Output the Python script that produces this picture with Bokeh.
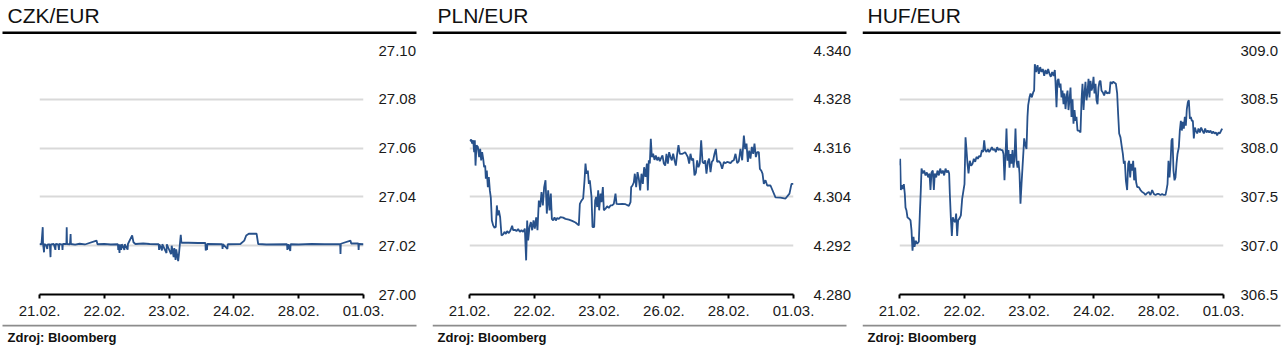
from bokeh.plotting import figure
from bokeh.layouts import row, column
from bokeh.models import FixedTicker, PrintfTickFormatter, Label, BoxAnnotation, Range1d
from bokeh.embed import file_html
from bokeh.resources import INLINE

# ---------------- data ----------------
czk_t = [0.00, 0.03, 0.05, 0.055, 0.07, 0.075, 0.10, 0.12, 0.125, 0.16, 0.17, 0.175, 0.22, 0.245, 0.25,
         0.29, 0.30, 0.305, 0.35, 0.355, 0.36, 0.415, 0.42, 0.425, 0.47, 0.48, 0.485, 0.55, 0.62, 0.70,
         0.88, 0.895, 1.00, 1.10, 1.21, 1.215, 1.22, 1.235, 1.24, 1.26, 1.27, 1.31, 1.315, 1.36, 1.365,
         1.43, 1.45, 1.48, 1.60, 1.70, 1.84, 1.845, 1.85, 1.89, 1.895, 1.96, 1.965, 2.03, 2.04, 2.07,
         2.08, 2.10, 2.11, 2.14, 2.15, 2.18, 2.19, 2.30, 2.45, 2.56, 2.565, 2.58, 2.585, 2.59, 2.82,
         2.825, 2.83, 2.90, 2.905, 3.10, 3.16, 3.19, 3.23, 3.35, 3.375, 3.50, 3.82, 3.825, 3.84, 3.87,
         3.875, 4.00, 4.20, 4.40, 4.64, 4.645, 4.65, 4.80, 4.81, 4.92, 4.925, 4.93, 5.00]
czk_v = [27.0207, 27.0205, 27.0276, 27.0207, 27.0173, 27.0207, 27.0203, 27.0187, 27.0205, 27.0205,
         27.0153, 27.0205, 27.0207, 27.0183, 27.0207, 27.0205, 27.0183, 27.0207, 27.0204, 27.0183,
         27.0207, 27.0207, 27.0276, 27.0207, 27.0205, 27.0248, 27.0207, 27.0204, 27.0208, 27.0205,
         27.0221, 27.0206, 27.0207, 27.0205, 27.0206, 27.0183, 27.0206, 27.0170, 27.0205, 27.0183,
         27.0206, 27.0183, 27.0206, 27.0184, 27.0207, 27.0242, 27.0214, 27.0207, 27.0209, 27.0207,
         27.0206, 27.0183, 27.0206, 27.0181, 27.0206, 27.0170, 27.0206, 27.0165, 27.0200, 27.0153,
         27.0190, 27.0142, 27.0185, 27.0137, 27.0160, 27.0245, 27.0212, 27.0212, 27.0211, 27.0211,
         27.0180, 27.0208, 27.0183, 27.0207, 27.0206, 27.0187, 27.0206, 27.0187, 27.0206, 27.0207,
         27.0221, 27.0242, 27.0249, 27.0249, 27.0207, 27.0205, 27.0206, 27.0183, 27.0206, 27.0178,
         27.0206, 27.0205, 27.0207, 27.0206, 27.0206, 27.0166, 27.0208, 27.0221, 27.0209, 27.0209,
         27.0183, 27.0207, 27.0206]

pln_t = [0.005, 0.026, 0.041, 0.057, 0.072, 0.082, 0.093, 0.108, 0.129, 0.149, 0.165, 0.180, 0.195, 0.211,
         0.226, 0.242, 0.252, 0.267, 0.283, 0.298, 0.314, 0.329, 0.345, 0.365, 0.386, 0.406, 0.422, 0.437,
         0.453, 0.473, 0.494, 0.520, 0.540, 0.561, 0.581, 0.607, 0.633, 0.658, 0.674, 0.700, 0.725, 0.751,
         0.777, 0.802, 0.828, 0.854, 0.874, 0.890, 0.905, 0.926, 0.947, 0.967, 0.988, 1.008, 1.029, 1.049,
         1.070, 1.091, 1.111, 1.132, 1.152, 1.173, 1.193, 1.214, 1.235, 1.255, 1.271, 1.291, 1.312, 1.332,
         1.353, 1.379, 1.404, 1.445, 1.481, 1.533, 1.584, 1.636, 1.687, 1.703, 1.728, 1.754, 1.775, 1.790,
         1.806, 1.826, 1.842, 1.857, 1.883, 1.898, 1.924, 1.939, 1.955, 1.970, 1.986, 2.001, 2.022, 2.037,
         2.058, 2.073, 2.099, 2.124, 2.150, 2.176, 2.202, 2.227, 2.253, 2.269, 2.305, 2.356, 2.407, 2.459,
         2.485, 2.495, 2.515, 2.536, 2.551, 2.572, 2.593, 2.613, 2.634, 2.654, 2.675, 2.695, 2.716, 2.737,
         2.752, 2.767, 2.783, 2.798, 2.814, 2.834, 2.855, 2.875, 2.896, 2.917, 2.937, 2.958, 2.978, 2.999,
         3.020, 3.040, 3.061, 3.081, 3.102, 3.122, 3.143, 3.164, 3.184, 3.205, 3.225, 3.246, 3.266, 3.287,
         3.308, 3.328, 3.349, 3.369, 3.390, 3.410, 3.431, 3.452, 3.472, 3.493, 3.513, 3.534, 3.554, 3.575,
         3.596, 3.616, 3.637, 3.657, 3.678, 3.698, 3.719, 3.740, 3.760, 3.781, 3.801, 3.822, 3.848, 3.873,
         3.899, 3.925, 3.951, 3.976, 4.002, 4.028, 4.053, 4.079, 4.105, 4.131, 4.156, 4.182, 4.208, 4.234,
         4.254, 4.275, 4.295, 4.316, 4.336, 4.357, 4.378, 4.398, 4.419, 4.439, 4.465, 4.481, 4.501, 4.522,
         4.542, 4.568, 4.594, 4.645, 4.722, 4.799, 4.877, 4.938, 4.969, 5.000]
pln_v = [4.3177, 4.3181, 4.3171, 4.3179, 4.3150, 4.3179, 4.3117, 4.3167, 4.3163, 4.3138, 4.3158, 4.3130,
         4.3150, 4.3134, 4.3113, 4.3117, 4.3085, 4.3105, 4.3064, 4.3089, 4.3056, 4.3038, 4.2982, 4.2970,
         4.2964, 4.2966, 4.3019, 4.2995, 4.3007, 4.2990, 4.2945, 4.2948, 4.2954, 4.2949, 4.2956, 4.2951,
         4.2958, 4.2969, 4.2958, 4.2959, 4.2956, 4.2961, 4.2954, 4.2958, 4.2954, 4.2962, 4.2884, 4.2982,
         4.2933, 4.2966, 4.2978, 4.2958, 4.2982, 4.2962, 4.2990, 4.2958, 4.3031, 4.3015, 4.3052, 4.3019,
         4.3064, 4.3081, 4.2999, 4.3056, 4.3007, 4.3048, 4.2986, 4.2982, 4.2990, 4.2982, 4.2988, 4.2986,
         4.2990, 4.2989, 4.2986, 4.2984, 4.2981, 4.2977, 4.2970, 4.3023, 4.3031, 4.3036, 4.3081, 4.3122,
         4.3097, 4.3105, 4.3072, 4.3081, 4.3040, 4.2966, 4.2966, 4.3031, 4.3040, 4.3015, 4.3056, 4.3007,
         4.3048, 4.3027, 4.3064, 4.3007, 4.3011, 4.3017, 4.3013, 4.3019, 4.3019, 4.3023, 4.3048, 4.3023,
         4.3022, 4.3023, 4.3022, 4.3018, 4.3027, 4.3064, 4.3068, 4.3076, 4.3097, 4.3064, 4.3101, 4.3085,
         4.3056, 4.3097, 4.3072, 4.3113, 4.3089, 4.3122, 4.3056, 4.3130, 4.3122, 4.3183, 4.3138, 4.3146,
         4.3131, 4.3142, 4.3130, 4.3138, 4.3128, 4.3136, 4.3142, 4.3122, 4.3117, 4.3146, 4.3122, 4.3150,
         4.3138, 4.3130, 4.3146, 4.3130, 4.3117, 4.3146, 4.3167, 4.3146, 4.3146, 4.3146, 4.3148, 4.3150,
         4.3144, 4.3138, 4.3122, 4.3146, 4.3130, 4.3134, 4.3093, 4.3099, 4.3130, 4.3113, 4.3122, 4.3179,
         4.3126, 4.3122, 4.3130, 4.3097, 4.3126, 4.3134, 4.3101, 4.3126, 4.3130, 4.3146, 4.3158, 4.3126,
         4.3128, 4.3123, 4.3109, 4.3126, 4.3123, 4.3126, 4.3125, 4.3123, 4.3128, 4.3130, 4.3146, 4.3123,
         4.3128, 4.3158, 4.3130, 4.3191, 4.3158, 4.3171, 4.3126, 4.3154, 4.3134, 4.3163, 4.3146, 4.3171,
         4.3138, 4.3150, 4.3150, 4.3109, 4.3105, 4.3097, 4.3072, 4.3081, 4.3068, 4.3068, 4.3039, 4.3038,
         4.3036, 4.3048, 4.3072, 4.3072]

huf_t = [0.000, 0.010, 0.021, 0.036, 0.051, 0.067, 0.082, 0.093, 0.108, 0.123, 0.144, 0.170, 0.185, 0.201,
         0.216, 0.231, 0.252, 0.273, 0.298, 0.314, 0.329, 0.340, 0.360, 0.381, 0.401, 0.422, 0.442, 0.463,
         0.478, 0.494, 0.514, 0.530, 0.545, 0.566, 0.586, 0.607, 0.628, 0.648, 0.669, 0.689, 0.710, 0.730,
         0.751, 0.766, 0.777, 0.792, 0.808, 0.823, 0.838, 0.859, 0.874, 0.890, 0.905, 0.926, 0.947, 0.967,
         0.988, 1.003, 1.019, 1.034, 1.049, 1.065, 1.085, 1.106, 1.127, 1.147, 1.168, 1.188, 1.209, 1.229,
         1.250, 1.271, 1.291, 1.307, 1.322, 1.343, 1.363, 1.384, 1.404, 1.425, 1.445, 1.466, 1.487, 1.507,
         1.528, 1.548, 1.569, 1.589, 1.605, 1.620, 1.636, 1.651, 1.667, 1.682, 1.698, 1.713, 1.728, 1.744,
         1.759, 1.775, 1.790, 1.806, 1.821, 1.836, 1.852, 1.867, 1.883, 1.898, 1.914, 1.924, 1.939, 1.960,
         1.975, 1.986, 2.006, 2.022, 2.042, 2.063, 2.078, 2.088, 2.109, 2.130, 2.150, 2.171, 2.191, 2.212,
         2.233, 2.253, 2.274, 2.294, 2.315, 2.335, 2.356, 2.377, 2.397, 2.407, 2.423, 2.438, 2.454, 2.469,
         2.485, 2.500, 2.515, 2.531, 2.546, 2.562, 2.577, 2.593, 2.608, 2.623, 2.639, 2.654, 2.670, 2.685,
         2.701, 2.716, 2.731, 2.747, 2.767, 2.793, 2.809, 2.824, 2.840, 2.855, 2.870, 2.886, 2.901, 2.917,
         2.932, 2.948, 2.963, 2.978, 2.994, 3.009, 3.025, 3.040, 3.056, 3.071, 3.086, 3.102, 3.117, 3.138,
         3.158, 3.179, 3.200, 3.220, 3.241, 3.256, 3.277, 3.297, 3.318, 3.339, 3.359, 3.374, 3.390, 3.410,
         3.431, 3.447, 3.462, 3.477, 3.493, 3.513, 3.529, 3.544, 3.560, 3.575, 3.591, 3.606, 3.621, 3.637,
         3.652, 3.668, 3.693, 3.719, 3.745, 3.771, 3.796, 3.822, 3.848, 3.873, 3.899, 3.925, 3.951, 3.976,
         4.002, 4.028, 4.053, 4.079, 4.105, 4.120, 4.136, 4.151, 4.167, 4.182, 4.198, 4.213, 4.228, 4.244,
         4.259, 4.275, 4.290, 4.311, 4.326, 4.342, 4.357, 4.372, 4.388, 4.403, 4.419, 4.434, 4.450, 4.465,
         4.481, 4.496, 4.511, 4.527, 4.542, 4.558, 4.573, 4.594, 4.614, 4.635, 4.655, 4.676, 4.697, 4.717,
         4.738, 4.758, 4.779, 4.799, 4.820, 4.841, 4.861, 4.882, 4.902, 4.923, 4.943, 4.964, 4.980]
huf_v = [307.82, 307.89, 307.57, 307.62, 307.58, 307.63, 307.53, 307.39, 307.36, 307.29, 307.28, 307.26,
         307.16, 306.95, 307.09, 306.99, 307.05, 307.02, 307.04, 307.33, 307.57, 307.79, 307.74, 307.77,
         307.72, 307.75, 307.70, 307.74, 307.57, 307.75, 307.77, 307.57, 307.74, 307.70, 307.77, 307.72,
         307.79, 307.74, 307.77, 307.72, 307.79, 307.75, 307.77, 307.74, 307.53, 307.29, 307.10, 307.29,
         307.26, 307.24, 307.33, 307.10, 307.26, 307.28, 307.31, 307.48, 307.57, 307.63, 308.11, 307.98,
         307.84, 307.74, 307.87, 307.82, 307.84, 307.89, 307.86, 307.91, 307.89, 307.92, 307.91, 307.98,
         307.96, 308.08, 307.98, 307.96, 307.99, 307.96, 307.98, 308.01, 307.98, 307.99, 307.96, 308.01,
         307.98, 307.99, 307.98, 307.98, 307.94, 307.67, 307.92, 308.20, 307.87, 307.98, 307.80, 307.94,
         307.84, 307.98, 307.80, 307.91, 308.20, 307.87, 307.80, 307.87, 307.74, 307.43, 307.63, 307.80,
         307.98, 308.10, 308.04, 307.99, 308.32, 308.44, 308.52, 308.56, 308.52, 308.57, 308.59, 308.86,
         308.78, 308.85, 308.76, 308.83, 308.78, 308.81, 308.74, 308.80, 308.76, 308.81, 308.76, 308.73,
         308.78, 308.74, 308.80, 308.68, 308.42, 308.69, 308.71, 308.62, 308.66, 308.52, 308.59, 308.45,
         308.56, 308.40, 308.52, 308.59, 308.39, 308.49, 308.62, 308.32, 308.50, 308.25, 308.39, 308.28,
         308.32, 308.18, 308.18, 308.16, 308.49, 308.66, 308.39, 308.56, 308.68, 308.49, 308.57, 308.71,
         308.52, 308.69, 308.59, 308.62, 308.73, 308.56, 308.66, 308.49, 308.45, 308.62, 308.68, 308.69,
         308.59, 308.57, 308.54, 308.59, 308.56, 308.57, 308.56, 308.68, 308.66, 308.68, 308.67, 308.66,
         308.56, 308.35, 308.15, 308.11, 308.01, 307.94, 307.84, 307.87, 307.67, 307.57, 307.84, 307.87,
         307.70, 307.84, 307.77, 307.87, 307.67, 307.80, 307.65, 307.60, 307.60, 307.57, 307.55, 307.54,
         307.52, 307.54, 307.55, 307.52, 307.57, 307.53, 307.52, 307.53, 307.53, 307.52, 307.53, 307.52,
         307.52, 307.57, 307.63, 307.87, 307.70, 307.84, 308.08, 308.10, 307.77, 307.67, 307.70, 307.84,
         307.94, 308.01, 308.18, 308.28, 308.18, 308.27, 308.20, 308.32, 308.23, 308.40, 308.47, 308.49,
         308.30, 308.32, 308.28, 308.28, 308.10, 308.21, 308.18, 308.15, 308.20, 308.16, 308.21, 308.18,
         308.15, 308.20, 308.16, 308.18, 308.16, 308.18, 308.15, 308.17, 308.15, 308.16, 308.13, 308.16,
         308.15, 308.18, 308.20]

czk_ticks = [27.00, 27.02, 27.04, 27.06, 27.08, 27.10]
pln_ticks = [4.280, 4.292, 4.304, 4.316, 4.328, 4.340]
huf_ticks = [306.5, 307.0, 307.5, 308.0, 308.5, 309.0]

czk_days = ["21.02.", "22.02.", "23.02.", "24.02.", "28.02.", "01.03."]
pln_days = ["21.02.", "22.02.", "23.02.", "26.02.", "28.02.", "01.03."]
huf_days = ["21.02.", "22.02.", "23.02.", "24.02.", "28.02.", "01.03."]

titles = ["CZK/EUR", "PLN/EUR", "HUF/EUR"]
source = "Zdroj: Bloomberg"

LINE = "#27518b"
FONT = "Liberation Sans"
TXT = "#1a1a1a"


def blank(width, height):
    f = figure(width=width, height=height, output_backend="svg", toolbar_location=None,
               title=None, frame_align=False,
               x_range=Range1d(0, width), y_range=Range1d(0, height),
               min_border=0, min_border_left=0, min_border_right=0,
               min_border_top=0, min_border_bottom=0)
    f.axis.visible = False
    f.grid.visible = False
    f.outline_line_color = None
    f.background_fill_color = "white"
    f.border_fill_color = "white"
    return f


def panel(title, t, v, ticks, fmt, days, width, left, rule_x0, rule_x1, text_x, standoff):
    # header with title and thick rule
    h = blank(width, 34)
    h.add_layout(Label(x=text_x, y=19, text=title, text_font=FONT, text_font_size="21px",
                       text_color="#111111", text_baseline="alphabetic"))
    h.add_layout(BoxAnnotation(left=rule_x0, right=rule_x1, bottom=0, top=3,
                               fill_color="black", fill_alpha=1.0, line_color=None))

    # main chart
    p = figure(width=width, height=290, output_backend="svg", toolbar_location=None,
               title=None, frame_align=False,
               x_range=Range1d(0, 5), y_range=Range1d(ticks[0], ticks[-1]),
               y_axis_location="right",
               min_border_left=left, min_border_right=width - left - 324,
               min_border_top=16, min_border_bottom=30)
    p.outline_line_color = None
    p.background_fill_color = "white"
    p.border_fill_color = "white"

    p.xgrid.visible = False
    p.ygrid.grid_line_color = "#d9d9d9"
    p.ygrid.grid_line_width = 2

    ya = p.yaxis[0]
    ya.ticker = FixedTicker(ticks=ticks)
    ya.formatter = PrintfTickFormatter(format=fmt)
    ya.axis_line_color = None
    ya.major_tick_line_color = None
    ya.minor_tick_line_color = None
    ya.major_label_standoff = standoff
    ya.major_label_text_font = FONT
    ya.major_label_text_font_size = "15px"
    ya.major_label_text_color = TXT

    xa = p.xaxis[0]
    xa.ticker = FixedTicker(ticks=list(range(len(days))))
    xa.major_label_overrides = {i: d for i, d in enumerate(days)}
    xa.axis_line_color = "black"
    xa.axis_line_width = 2
    xa.major_tick_line_color = "black"
    xa.major_tick_line_width = 2
    xa.major_tick_in = 0
    xa.major_tick_out = 4
    xa.minor_tick_line_color = None
    xa.major_label_standoff = 7
    xa.major_label_text_font = FONT
    xa.major_label_text_font_size = "15px"
    xa.major_label_text_color = TXT

    p.line(t, v, line_color=LINE, line_width=1.8)

    # footer with grey rule and source
    f = blank(width, 26)
    f.add_layout(BoxAnnotation(left=rule_x0, right=rule_x1, bottom=24, top=26,
                               fill_color="#8c8c8c", fill_alpha=1.0, line_color=None))
    f.add_layout(Label(x=text_x, y=13, text=source, text_font=FONT, text_font_size="13px",
                       text_font_style="bold", text_color="#111111", text_baseline="alphabetic"))
    return column(h, p, f, spacing=0)


c1 = panel(titles[0], czk_t, czk_v, czk_ticks, "%.2f", czk_days, 432, 39, 2, 416, 7, 9)
c2 = panel(titles[1], pln_t, pln_v, pln_ticks, "%.3f", pln_days, 430, 37, 0, 414, 5, 14)
c3 = panel(titles[2], huf_t, huf_v, huf_ticks, "%.1f", huf_days, 420, 37, 0, 418, 5, 11)

layout = row(c1, c2, c3, spacing=0)

open("out.html", "w").write(file_html(layout, INLINE))
